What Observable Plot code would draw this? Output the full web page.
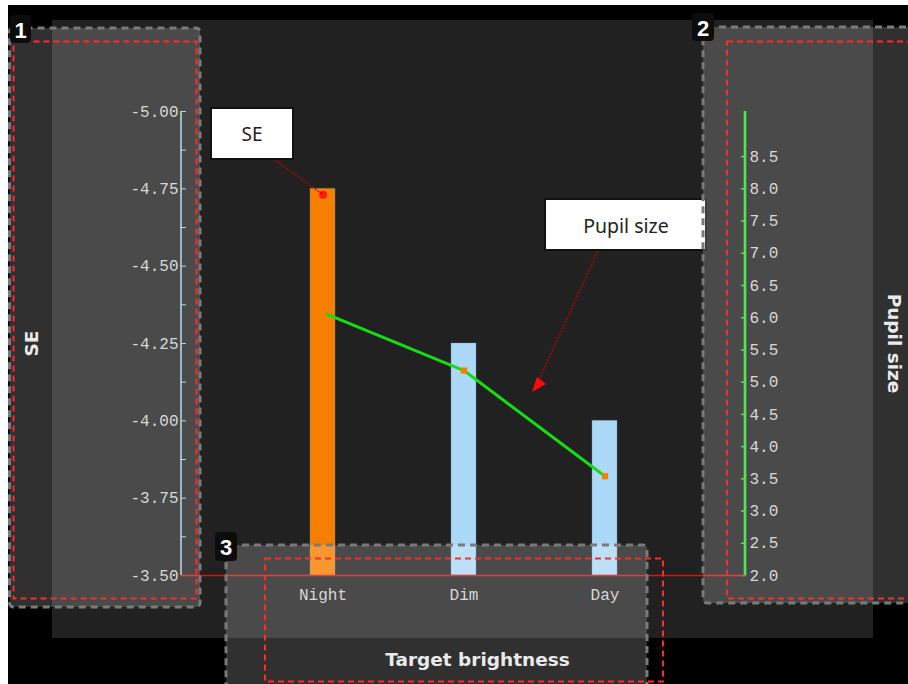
<!DOCTYPE html>
<html><head><meta charset="utf-8">
<script src="https://cdn.jsdelivr.net/npm/d3@7"></script>
<script src="https://cdn.jsdelivr.net/npm/@observablehq/plot@0.6"></script>
<style>
html,body{margin:0;padding:0;background:#fff;}
#stage{position:relative;width:908px;height:684px;overflow:hidden;background:#fff;}
.layer{position:absolute;left:0;top:0;}
</style></head><body>
<div id="stage">
  <div class="layer" style="left:8px;top:5px;width:900px;height:679px;background:#000"></div>
  <div class="layer" style="left:52px;top:20px;width:821px;height:618px;background:#212121"></div>
</div>
<script>
// ---- data ----
const categories = ["Night", "Dim", "Day"];
const seValues = [-4.75, -4.25, -4.00];
const pupilValues = [6.08, 5.18, 3.54];
const barColors = ["#f77f00", "#acd9f7", "#acd9f7"];
const seTicks = [-5.00, -4.75, -4.50, -4.25, -4.00, -3.75, -3.50];
const seMinorTicks = [-5.00, -4.875, -4.75, -4.625, -4.50, -4.375, -4.25, -4.125, -4.00, -3.875, -3.75, -3.625, -3.50];
const pupilTicks = [2.0, 2.5, 3.0, 3.5, 4.0, 4.5, 5.0, 5.5, 6.0, 6.5, 7.0, 7.5, 8.0, 8.5];
const seDomain = [-5.0, -3.5];
const pupilDomain = [2.0, 9.2];
const titleSE = "SE";
const titlePupil = "Pupil size";
const titleX = "Target brightness";
const calloutSE = "SE";
const calloutPupil = "Pupil size";

// map pupil value into the SE (left) scale space
const toSE = p => seDomain[1] - (p - pupilDomain[0]) / (pupilDomain[1] - pupilDomain[0]) * (seDomain[1] - seDomain[0]);
const fromSE = s => pupilDomain[0] + (seDomain[1] - s) / (seDomain[1] - seDomain[0]) * (pupilDomain[1] - pupilDomain[0]);

const rows = categories.map((c, i) => ({cat: c, se: seValues[i], pupil: pupilValues[i], color: barColors[i]}));

const tickFont = {fontFamily: "Liberation Mono", fontSize: 16};
const titleFont = {fontFamily: "DejaVu Sans", fontSize: 18.5, fontWeight: "bold", fill: "#e6e6e6", textAnchor: "middle", lineAnchor: "middle"};

const plot = Plot.plot({
  width: 908, height: 684,
  marginLeft: 181, marginRight: 163, marginTop: 111, marginBottom: 109,
  style: {background: "transparent", fontFamily: "Liberation Mono", fontSize: "16px", overflow: "visible"},
  x: {domain: categories, type: "band", paddingInner: 0.823, paddingOuter: 0.904},
  y: {domain: seDomain, reverse: true},
  marks: [
    Plot.barY(rows, {x: "cat", y1: seDomain[1], y2: "se", fill: "color", stroke: "#6f8fa6", strokeOpacity: 0.35, strokeWidth: 1}),
    Plot.line(rows, {x: "cat", y: d => toSE(d.pupil), stroke: "#14dd14", strokeWidth: 3}),
    Plot.dot(rows, {x: "cat", y: d => toSE(d.pupil), symbol: "square", r: 3.5, fill: "#f77f00"}),
    Plot.dot([rows[0]], {x: "cat", y: "se", dy: 6, r: 4, fill: "#ff1a1a"}),
    // left axis: minor + major ticks (inside), then labels
    Plot.axisY({anchor: "left", ticks: seMinorTicks, tickSize: 5, dx: 5, tickFormat: () => "", stroke: "#9fd0ee", label: null}),
    Plot.axisY({anchor: "left", ticks: seTicks, tickSize: 0, tickPadding: 3, tickFormat: d => d.toFixed(2), color: "#cfcfcf", ...tickFont, label: null}),
    // right axis
    Plot.axisY({anchor: "right", ticks: pupilTicks.map(toSE), tickSize: 5, dx: -5, tickFormat: () => "", stroke: "#2fdc2f", strokeWidth: 1.5, label: null}),
    Plot.axisY({anchor: "right", ticks: pupilTicks.map(toSE), tickSize: 0, tickPadding: 4, tickFormat: d => fromSE(d).toFixed(1), color: "#cfcfcf", ...tickFont, label: null}),
    // x axis labels
    Plot.axisX({anchor: "bottom", tickSize: 0, tickPadding: 13, color: "#cfcfcf", ...tickFont, label: null}),
    // baseline
    Plot.ruleY([seDomain[1]], {stroke: "#e01010", strokeWidth: 1.3}),
    // axis titles
    Plot.text([titleSE], {frameAnchor: "left", dx: -149, rotate: -90, ...titleFont}),
    Plot.text([titlePupil], {frameAnchor: "right", dx: 148, rotate: 90, ...titleFont}),
    Plot.text([titleX], {frameAnchor: "bottom", dx: 14, dy: 85, ...titleFont})
  ]
});
plot.setAttribute("class", "layer");
document.getElementById("stage").appendChild(plot);

// axis lines (styling), from the scales
const xs = plot.scale("x"), ys = plot.scale("y");
const svgSel = d3.select(plot);
const [yB, yT] = ys.range;
svgSel.append("line").attr("x1", xs.range[0]).attr("x2", xs.range[0]).attr("y1", yB).attr("y2", yT)
  .attr("stroke", "#a8d6f2").attr("stroke-width", 1.5);
svgSel.append("line").attr("x1", xs.range[1]).attr("x2", xs.range[1]).attr("y1", yB).attr("y2", yT)
  .attr("stroke", "#2fdc2f").attr("stroke-width", 2.6);

// ---- overlay: callouts and screenshot panels ----
const ov = d3.select("#stage").append("svg").attr("class", "layer").attr("width", 908).attr("height", 684);
const dotX = xs.apply("Night") + xs.bandwidth / 2;
const dotY = ys.apply(seValues[0]) + 6;
ov.append("line").attr("x1", 275).attr("y1", 160).attr("x2", dotX).attr("y2", dotY)
  .attr("stroke", "#c40000").attr("stroke-width", 1.3).attr("stroke-dasharray", "2,1.5");
ov.append("rect").attr("x", 211).attr("y", 108).attr("width", 82).attr("height", 51)
  .attr("fill", "#fff").attr("stroke", "#111").attr("stroke-width", 2);
ov.append("text").attr("x", 252).attr("y", 134).attr("text-anchor", "middle").attr("dominant-baseline", "central")
  .attr("font-family", "Noto Sans").attr("font-size", 19).attr("fill", "#222").text(calloutSE);

ov.append("line").attr("x1", 598).attr("y1", 251).attr("x2", 539).attr("y2", 380)
  .attr("stroke", "#c40000").attr("stroke-width", 1.3).attr("stroke-dasharray", "2,1.5");
ov.append("polygon").attr("points", "537,377 532,392 546,384").attr("fill", "#ff0a0a");
ov.append("rect").attr("x", 545).attr("y", 199).attr("width", 161).attr("height", 51)
  .attr("fill", "#fff").attr("stroke", "#111").attr("stroke-width", 2);
ov.append("text").attr("x", 626).attr("y", 225).attr("text-anchor", "middle").attr("dominant-baseline", "central")
  .attr("font-family", "Noto Sans").attr("font-size", 19.5).attr("fill", "#222").text(calloutPupil);

const panels = [
  {n: "1", g: [9.5, 28, 190.5, 579], r: [13.5, 41.5, 183, 557], lab: [10, 15, 21, 28]},
  {n: "2", g: [703, 27, 230, 576], r: [727, 41.5, 200, 557], lab: [692, 13, 22, 28]},
  {n: "3", g: [226, 545, 421, 160], r: [265, 558.5, 398, 123], lab: [215, 532, 22, 29]}
];
panels.forEach(p => {
  ov.append("rect").attr("x", p.g[0]).attr("y", p.g[1]).attr("width", p.g[2]).attr("height", p.g[3]).attr("rx", 4)
    .attr("fill", "rgba(255,255,255,0.19)").attr("stroke", "#7a7a7a").attr("stroke-width", 3).attr("stroke-dasharray", "7,5");
  ov.append("rect").attr("x", p.r[0]).attr("y", p.r[1]).attr("width", p.r[2]).attr("height", p.r[3])
    .attr("fill", "none").attr("stroke", "#ff2a2a").attr("stroke-width", 2).attr("stroke-dasharray", "6,4");
  ov.append("rect").attr("x", p.lab[0]).attr("y", p.lab[1]).attr("width", p.lab[2]).attr("height", p.lab[3]).attr("rx", 4)
    .attr("fill", "#0c0c0c");
  ov.append("text").attr("x", p.lab[0] + p.lab[2] / 2).attr("y", p.lab[1] + p.lab[3] / 2 + 1)
    .attr("text-anchor", "middle").attr("dominant-baseline", "central")
    .attr("font-family", "Liberation Sans").attr("font-weight", "bold").attr("font-size", 22).attr("fill", "#fff").text(p.n);
});
</script>
</body></html>
